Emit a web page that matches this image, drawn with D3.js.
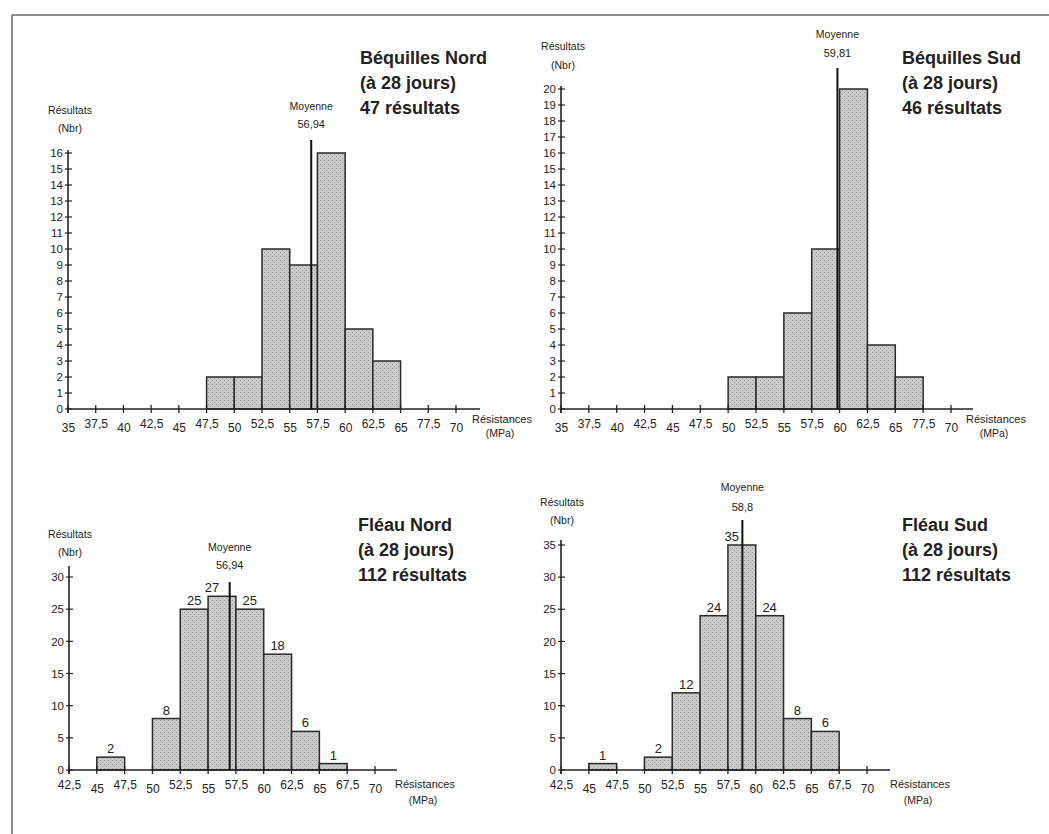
<!DOCTYPE html>
<html><head><meta charset="utf-8">
<script src="https://cdn.jsdelivr.net/npm/d3@7/dist/d3.min.js"></script>
<style>
html,body{margin:0;padding:0;background:#fff;}
svg{display:block;}
text{font-family:"Liberation Sans",Arial,sans-serif;fill:#222;}
</style></head><body>
<svg id="c" width="1049" height="834"></svg>
<script>
// ---- data ----
const binWidth = 2.5;
const bnBins = [47.5, 50, 52.5, 55, 57.5, 60, 62.5];
const bnCounts = [2, 2, 10, 9, 16, 5, 3];
const bsBins = [50, 52.5, 55, 57.5, 60, 62.5, 65];
const bsCounts = [2, 2, 6, 10, 20, 4, 2];
const fnBins = [45, 50, 52.5, 55, 57.5, 60, 62.5, 65];
const fnCounts = [2, 8, 25, 27, 25, 18, 6, 1];
const fsBins = [45, 50, 52.5, 55, 57.5, 60, 62.5, 65];
const fsCounts = [1, 2, 12, 24, 35, 24, 8, 6];
const means = [56.94, 59.81, 56.94, 58.8];
const meanLabels = ["56,94", "59,81", "56,94", "58,8"];
const titles = [
  ["Béquilles Nord", "(à 28 jours)", "47 résultats"],
  ["Béquilles Sud", "(à 28 jours)", "46 résultats"],
  ["Fléau Nord", "(à 28 jours)", "112 résultats"],
  ["Fléau Sud", "(à 28 jours)", "112 résultats"]
];
const topTickValues = [35, 37.5, 40, 42.5, 45, 47.5, 50, 52.5, 55, 57.5, 60, 62.5, 65, 67.5, 70];
const topTickLabels = ["35", "37,5", "40", "42,5", "45", "47,5", "50", "52,5", "55", "57,5", "60", "62,5", "65", "77,5", "70"];
const botTickValues = [42.5, 45, 47.5, 50, 52.5, 55, 57.5, 60, 62.5, 65, 67.5, 70];
const botTickLabels = ["42,5", "45", "47,5", "50", "52,5", "55", "57,5", "60", "62,5", "65", "67,5", "70"];
const topYTicks = [d3.range(0, 17, 1), d3.range(0, 21, 1)];
const botYTicks = [d3.range(0, 31, 5), d3.range(0, 36, 5)];

// ---- layout ----
const svg = d3.select("#c");
svg.append("line").attr("x1", 12).attr("y1", 15).attr("x2", 1049).attr("y2", 15).attr("stroke", "#8a8a8a").attr("stroke-width", 2);
svg.append("line").attr("x1", 12).attr("y1", 15).attr("x2", 12).attr("y2", 834).attr("stroke", "#8a8a8a").attr("stroke-width", 2);

const defs = svg.append("defs");
const pat = defs.append("pattern").attr("id", "stip").attr("patternUnits", "userSpaceOnUse").attr("width", 4).attr("height", 4);
pat.append("rect").attr("width", 4).attr("height", 4).attr("fill", "#cbcbcb");
pat.append("rect").attr("x", 0).attr("y", 0).attr("width", 1).attr("height", 1).attr("fill", "#959595");
pat.append("rect").attr("x", 2).attr("y", 2).attr("width", 1).attr("height", 1).attr("fill", "#a5a5a5");

const narrow = "'Liberation Sans Narrow','Liberation Sans',Arial,sans-serif";

const panels = [
  {bins: bnBins, counts: bnCounts, xd: [35, 70], xr: [68, 456], axEnd: 480, yd: [0, 16], yr: [409, 153], yTop: 150,
   ticks: topTickValues, tlabels: topTickLabels, yt: topYTicks[0], labels: false, meanTop: 140, moy: [110, 128],
   ytitle: [70, 114, 132], title: [360, 64, 89, 114], res: [472, 423, 437]},
  {bins: bsBins, counts: bsCounts, xd: [35, 70], xr: [561, 951], axEnd: 973, yd: [0, 20], yr: [409, 89], yTop: 86,
   ticks: topTickValues, tlabels: topTickLabels, yt: topYTicks[1], labels: false, meanTop: 68, moy: [38, 57],
   ytitle: [563, 50, 69], title: [902, 64, 89, 114], res: [966, 423, 437]},
  {bins: fnBins, counts: fnCounts, xd: [42.5, 70], xr: [69, 375], axEnd: 397, yd: [0, 30], yr: [770, 577], yTop: 566,
   ticks: botTickValues, tlabels: botTickLabels, yt: botYTicks[0], labels: true, meanTop: 582, moy: [551, 569],
   ytitle: [70, 538, 556], title: [358, 531, 556, 581], res: [395, 788, 804]},
  {bins: fsBins, counts: fsCounts, xd: [42.5, 70], xr: [561, 867], axEnd: 890, yd: [0, 35], yr: [770, 545], yTop: 540,
   ticks: botTickValues, tlabels: botTickLabels, yt: botYTicks[1], labels: true, meanTop: 520, moy: [491, 511],
   ytitle: [562, 506, 524], title: [902, 531, 556, 581], res: [890, 788, 804]}
];

panels.forEach((p, i) => {
  const g = svg.append("g");
  const x = d3.scaleLinear().domain(p.xd).range(p.xr);
  const y = d3.scaleLinear().domain(p.yd).range(p.yr);
  const y0 = y(0), xa = x(p.xd[0]);

  g.selectAll("rect.bar").data(p.bins.map((b, k) => ({b, c: p.counts[k]}))).join("rect")
    .attr("class", "bar")
    .attr("x", d => x(d.b)).attr("width", d => x(d.b + binWidth) - x(d.b))
    .attr("y", d => y(d.c)).attr("height", d => y0 - y(d.c))
    .attr("fill", "url(#stip)").attr("stroke", "#2a2a2a").attr("stroke-width", 1.5);

  const xAxis = d3.axisBottom(x).tickValues(p.ticks).tickSize(0).tickFormat((d, k) => p.tlabels[k]);
  const ga = g.append("g").attr("transform", `translate(0,${y0})`).call(xAxis);
  ga.select(".domain").remove();
  ga.selectAll(".tick line").remove();
  ga.selectAll(".tick text").attr("font-size", 12).attr("fill", "#222").attr("font-family", narrow)
    .attr("dy", (d) => (Math.round(d) === d ? "1.65em" : "1.3em"));
  g.append("line").attr("x1", xa).attr("x2", p.axEnd).attr("y1", y0).attr("y2", y0).attr("stroke", "#222").attr("stroke-width", 1.6);
  g.selectAll("line.xt").data(p.ticks).join("line").attr("class", "xt")
    .attr("x1", d => x(d)).attr("x2", d => x(d)).attr("y1", y0 - 4).attr("y2", y0 + 4)
    .attr("stroke", "#222").attr("stroke-width", 1.3);

  const yAxis = d3.axisLeft(y).tickValues(p.yt).tickSize(0).tickFormat(d3.format("d"));
  const gy = g.append("g").attr("transform", `translate(${xa},0)`).call(yAxis);
  gy.select(".domain").remove();
  gy.selectAll(".tick text").attr("font-size", 11.5).attr("fill", "#222").attr("x", -5).attr("font-family", narrow);
  g.append("line").attr("x1", xa).attr("x2", xa).attr("y1", y0 + 4).attr("y2", p.yTop).attr("stroke", "#222").attr("stroke-width", 1.6);
  g.selectAll("line.yt").data(p.yt).join("line").attr("class", "yt")
    .attr("x1", xa - 3).attr("x2", xa + 4).attr("y1", d => y(d)).attr("y2", d => y(d))
    .attr("stroke", "#222").attr("stroke-width", 1.2);

  g.append("text").attr("x", p.ytitle[0]).attr("y", p.ytitle[1]).attr("text-anchor", "middle").attr("font-size", 10.5).attr("font-family", narrow).text("Résultats");
  g.append("text").attr("x", p.ytitle[0]).attr("y", p.ytitle[2]).attr("text-anchor", "middle").attr("font-size", 10.5).attr("font-family", narrow).text("(Nbr)");

  g.append("text").attr("x", p.res[0]).attr("y", p.res[1]).attr("font-size", 11).attr("font-family", narrow).text("Résistances");
  g.append("text").attr("x", p.res[0] + 28).attr("y", p.res[2]).attr("text-anchor", "middle").attr("font-size", 10.5).attr("font-family", narrow).text("(MPa)");

  const mx = x(means[i]);
  g.append("line").attr("x1", mx).attr("x2", mx).attr("y1", y0).attr("y2", p.meanTop).attr("stroke", "#111").attr("stroke-width", 2);
  g.append("text").attr("x", mx).attr("y", p.moy[0]).attr("text-anchor", "middle").attr("font-size", 10.5).attr("font-family", narrow).text("Moyenne");
  g.append("text").attr("x", mx).attr("y", p.moy[1]).attr("text-anchor", "middle").attr("font-size", 11).attr("font-family", narrow).text(meanLabels[i]);

  if (p.labels) {
    g.selectAll("text.val").data(p.bins.map((b, k) => ({b, c: p.counts[k]}))).join("text")
      .attr("class", "val")
      .attr("x", d => {
        const cx = x(d.b + binWidth / 2);
        return Math.abs(cx - mx) < 8 ? cx - 10 : cx;
      })
      .attr("y", d => y(d.c) - 4)
      .attr("text-anchor", "middle").attr("font-size", 13).text(d => d.c);
  }

  titles[i].forEach((t, k) => {
    g.append("text").attr("x", p.title[0]).attr("y", p.title[k + 1]).attr("font-size", 18).attr("font-weight", "bold").attr("fill", "#111").text(t);
  });
});
</script>
</body></html>
